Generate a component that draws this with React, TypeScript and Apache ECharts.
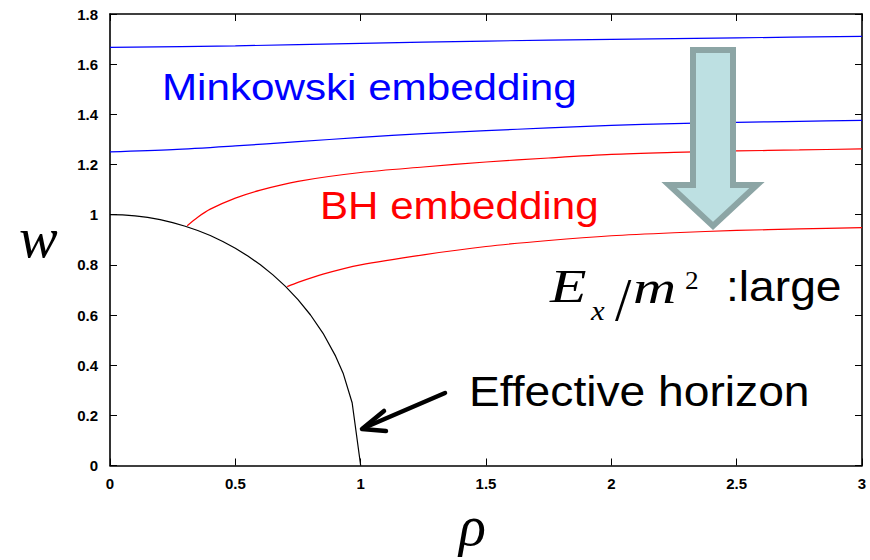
import React, { useEffect, useRef } from "react";
import * as echarts from "echarts";

// curves (rho, w)
const blueUpperRho = [0, 0.5, 1, 1.5, 2, 2.5, 3];
const blueUpperW = [1.667, 1.673, 1.683, 1.692, 1.699, 1.705, 1.711];

const blueLowerRho = [0, 0.25, 0.5, 0.75, 1, 1.25, 1.5, 1.75, 2, 2.25, 2.5, 2.75, 3];
const blueLowerW = [1.25, 1.259, 1.274, 1.291, 1.308, 1.323, 1.335, 1.346, 1.356, 1.363, 1.368, 1.372, 1.376];

const redUpperRho = [0.308, 0.35, 0.4, 0.5, 0.6, 0.75, 1, 1.25, 1.5, 1.75, 2, 2.25, 2.5, 2.75, 3];
const redUpperW = [0.956, 0.99, 1.022, 1.066, 1.098, 1.133, 1.168, 1.19, 1.21, 1.226, 1.24, 1.248, 1.254, 1.258, 1.262];

const redLowerRho = [0.707, 0.75, 0.85, 1, 1.25, 1.5, 1.75, 2, 2.25, 2.5, 2.75, 3];
const redLowerW = [0.713, 0.73, 0.763, 0.8, 0.84, 0.873, 0.897, 0.916, 0.928, 0.937, 0.943, 0.948];

const horizonRho = [0, 0.05, 0.1, 0.15, 0.2, 0.25, 0.3, 0.35, 0.4, 0.45, 0.5, 0.55, 0.6, 0.65, 0.7, 0.75, 0.8, 0.85, 0.9, 0.93, 0.966, 1.0];
const horizonW = [1, 0.999, 0.995, 0.989, 0.98, 0.968, 0.954, 0.937, 0.917, 0.893, 0.866, 0.835, 0.8, 0.76, 0.714, 0.661, 0.6, 0.527, 0.436, 0.368, 0.25, 0];

const xTicks = { min: 0, max: 3, interval: 0.5 };
const yTicks = { min: 0, max: 1.8, interval: 0.2 };

const pairs = (xs: number[], ys: number[]) => xs.map((x, i) => [x, ys[i]]);

const SANS = "'Liberation Sans', Arial, Helvetica, sans-serif";
const SERIF = "'Liberation Serif', 'Times New Roman', serif";

export default function App() {
  const ref = useRef<HTMLDivElement>(null);
  useEffect(() => {
    document.body.style.margin = "0";
    if (!ref.current) return;
    const chart = echarts.init(ref.current, null, { renderer: "svg" });
    const tickStyle = { show: true, inside: true, length: 7, lineStyle: { color: "#000", width: 1 } };
    const axisLine = { show: true, onZero: false, lineStyle: { color: "#000", width: 1.6 } };
    const labelStyle = { color: "#000", fontFamily: SANS, fontWeight: "bold" as const, fontSize: 15 };
    const lineSeries = (name: string, data: number[][], color: string, smooth: boolean) => ({
      name,
      type: "line",
      data,
      showSymbol: false,
      smooth: smooth ? 0.3 : false,
      lineStyle: { color, width: 1.2 },
      z: 2,
    });
    const math = (text: string, x: number, y: number, font: string, scaleX = 1.2) => ({
      type: "text",
      z: 10,
      x,
      y,
      scaleX,
      style: { text, fill: "#000", font, verticalAlign: "middle" },
    });
    chart.setOption({
      animation: false,
      backgroundColor: "#fff",
      grid: { left: 110, right: 8, top: 14, bottom: 94.5, containLabel: false },
      xAxis: [
        {
          type: "value",
          ...xTicks,
          position: "bottom",
          axisLine,
          axisTick: tickStyle,
          axisLabel: { ...labelStyle, margin: 10 },
          splitLine: { show: false },
        },
        {
          type: "value",
          ...xTicks,
          position: "top",
          axisLine,
          axisTick: tickStyle,
          axisLabel: { show: false },
          splitLine: { show: false },
        },
      ],
      yAxis: [
        {
          type: "value",
          ...yTicks,
          position: "left",
          axisLine,
          axisTick: tickStyle,
          axisLabel: { ...labelStyle, margin: 12 },
          splitLine: { show: false },
        },
        {
          type: "value",
          ...yTicks,
          position: "right",
          axisLine,
          axisTick: tickStyle,
          axisLabel: { show: false },
          splitLine: { show: false },
        },
      ],
      series: [
        lineSeries("Minkowski upper", pairs(blueUpperRho, blueUpperW), "#0000ff", true),
        lineSeries("Minkowski lower", pairs(blueLowerRho, blueLowerW), "#0000ff", true),
        lineSeries("BH upper", pairs(redUpperRho, redUpperW), "#ff0000", true),
        lineSeries("BH lower", pairs(redLowerRho, redLowerW), "#ff0000", true),
        lineSeries("Effective horizon", pairs(horizonRho, horizonW), "#000000", false),
      ],
      graphic: [
        // big downward arrow
        {
          type: "polygon",
          z: 10,
          shape: {
            points: [
              [693, 50], [733, 50], [733, 185], [757, 185], [713, 226], [669, 185], [693, 185],
            ],
          },
          style: { fill: "#bde0e2", stroke: "#8ca5a5", lineWidth: 6, lineJoin: "miter" },
        },
        // small black arrow to horizon
        {
          type: "line",
          z: 10,
          shape: { x1: 445, y1: 393, x2: 366, y2: 427 },
          style: { stroke: "#000", lineWidth: 4.5, lineCap: "round" },
        },
        {
          type: "polyline",
          z: 10,
          shape: { points: [[384, 411], [362, 429], [386, 431]] },
          style: { stroke: "#000", fill: null, lineWidth: 4.5, lineCap: "round", lineJoin: "round" },
        },
        {
          type: "text",
          z: 10,
          x: 162,
          y: 87,
          scaleX: 1.14,
          style: { text: "Minkowski embedding", fill: "#0000ff", font: `37px ${SANS}`, verticalAlign: "middle" },
        },
        {
          type: "text",
          z: 10,
          x: 320,
          y: 206,
          scaleX: 1.08,
          style: { text: "BH embedding", fill: "#ff0000", font: `39px ${SANS}`, verticalAlign: "middle" },
        },
        {
          type: "text",
          z: 10,
          x: 469,
          y: 391,
          scaleX: 1.1,
          style: { text: "Effective horizon", fill: "#000", font: `42px ${SANS}`, verticalAlign: "middle" },
        },
        {
          type: "text",
          z: 10,
          x: 726,
          y: 286,
          scaleX: 1.1,
          style: { text: ":large", fill: "#000", font: `42px ${SANS}`, verticalAlign: "middle" },
        },
        // E_x / m^2
        math("E", 550, 286, `italic 46px ${SERIF}`, 1.3),
        math("x", 591, 310, `italic 28px ${SERIF}`, 1.1),
        math("/", 615, 299, `62px ${SERIF}`, 0.95),
        math("m", 633, 287, `italic 46px ${SERIF}`, 1.3),
        math("2", 685, 280, `26px ${SERIF}`, 1.05),
        // axis names
        {
          type: "text",
          z: 10,
          x: 19,
          y: 237,
          style: { text: "w", fill: "#000", font: `italic 58px ${SERIF}`, verticalAlign: "middle" },
        },
        {
          type: "text",
          z: 10,
          x: 459,
          y: 526,
          style: { text: "ρ", fill: "#000", font: `italic 56px ${SERIF}`, verticalAlign: "middle" },
        },
      ],
    });
    return () => chart.dispose();
  }, []);
  return <div ref={ref} style={{ width: 870, height: 560 }} />;
}
